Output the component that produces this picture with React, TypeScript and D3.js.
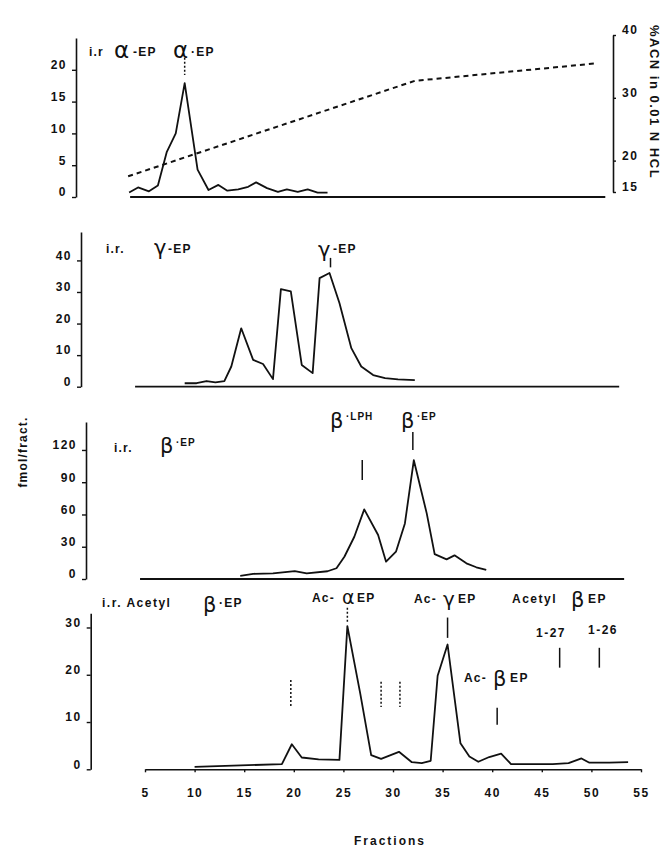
import React, { useEffect, useRef } from 'react';
import * as d3 from 'd3';

// fractions (x) and fmol/fract. (y)
const alphaFractions = [3.4, 4.3, 5.4, 6.3, 7.2, 8.1, 9.0, 10.3, 11.4, 12.4, 13.3, 14.4, 15.4, 16.2, 17.3, 18.4, 19.3, 20.4, 21.4, 22.4, 23.4];
const alphaValues = [0.7, 1.5, 0.9, 1.8, 7.1, 10.0, 17.9, 4.3, 1.1, 1.9, 1.0, 1.2, 1.6, 2.3, 1.4, 0.8, 1.2, 0.8, 1.2, 0.7, 0.7];

const gradientFractions = [3.3, 32.2, 50.6];
const gradientACN = [17.5, 32.7, 35.5];

const gammaFractions = [9.0, 10.2, 11.2, 12.1, 13.0, 13.7, 14.7, 15.9, 16.9, 17.9, 18.7, 19.7, 20.8, 21.9, 22.6, 23.6, 24.6, 25.8, 26.8, 28.0, 29.2, 30.5, 32.2];
const gammaValues = [1.1, 1.1, 1.8, 1.4, 1.8, 6.4, 18.5, 8.5, 7.2, 2.4, 30.9, 30.2, 6.9, 4.3, 34.4, 36.0, 26.5, 12.2, 6.4, 3.7, 2.7, 2.3, 2.1];

const betaFractions = [14.6, 15.9, 17.9, 20.1, 21.3, 23.4, 24.3, 25.1, 26.1, 27.1, 28.5, 29.3, 30.3, 31.2, 32.1, 33.4, 34.2, 35.4, 36.2, 37.4, 38.4, 39.4];
const betaValues = [3.0, 4.8, 5.3, 7.4, 5.3, 7.2, 10.0, 20.7, 39.3, 64.7, 40.9, 16.1, 25.4, 51.7, 110.5, 61.0, 23.2, 18.3, 22.0, 14.6, 10.9, 8.4];

const acetylFractions = [10.0, 18.8, 19.8, 20.8, 22.5, 24.6, 25.4, 26.7, 27.8, 28.8, 30.6, 31.9, 32.9, 33.8, 34.5, 35.5, 36.8, 37.7, 38.6, 39.7, 40.9, 41.9, 43.1, 44.4, 46.1, 47.7, 49.0, 49.8, 51.8, 53.7];
const acetylValues = [0.5, 1.1, 5.3, 2.5, 2.1, 2.0, 30.3, 16.0, 3.0, 2.2, 3.7, 1.5, 1.3, 1.8, 19.8, 26.4, 5.5, 2.7, 1.6, 2.6, 3.3, 1.1, 1.1, 1.1, 1.1, 1.3, 2.3, 1.4, 1.4, 1.5];

const fractionTicks = [5, 10, 15, 20, 25, 30, 35, 40, 45, 50, 55];
const alphaTicks = [0, 5, 10, 15, 20];
const gammaTicks = [0, 10, 20, 30, 40];
const betaTicks = [0, 30, 60, 90, 120];
const acetylTicks = [0, 10, 20, 30];
const acnTicks = [15, 20, 30, 40];

const FONT = "'Liberation Sans', Arial, Helvetica, sans-serif";
const GREEK = "'DejaVu Sans', 'Liberation Sans', sans-serif";

export default function App() {
    const ref = useRef<SVGSVGElement>(null);

    useEffect(() => {
        const svg = d3.select(ref.current);
        svg.selectAll('*').remove();

        const x = d3.scaleLinear().domain([5, 55]).range([145, 641]);

        const panels = [
            { fr: alphaFractions, vals: alphaValues, ticks: alphaTicks, y: d3.scaleLinear().domain([0, 25]).range([197, 38]), axisX: 76, base: [3.5, 51.4] },
            { fr: gammaFractions, vals: gammaValues, ticks: gammaTicks, y: d3.scaleLinear().domain([0, 49]).range([386.7, 232]), axisX: 81, base: [4.0, 52.8] },
            { fr: betaFractions, vals: betaValues, ticks: betaTicks, y: d3.scaleLinear().domain([0, 146]).range([579, 422]), axisX: 86, base: [4.5, 53.3] },
            { fr: acetylFractions, vals: acetylValues, ticks: acetylTicks, y: d3.scaleLinear().domain([0, 33]).range([769.3, 613.3]), axisX: 90.7, base: [5, 55] },
        ];

        const styleAxis = (g: any) => {
            g.select('.domain').attr('stroke', '#111').attr('stroke-width', 1.6);
            g.selectAll('.tick line').attr('stroke', '#111').attr('stroke-width', 1.4);
            g.selectAll('.tick text')
                .attr('fill', '#111')
                .attr('font-family', FONT)
                .attr('font-size', 12)
                .attr('font-weight', 'bold')
                .attr('letter-spacing', 1.5);
        };

        panels.forEach((p, i) => {
            const g = svg.append('g');
            const axis = d3.axisLeft(p.y).tickValues(p.ticks).tickSize(4).tickPadding(5).tickSizeOuter(0);
            g.append('g').attr('transform', `translate(${p.axisX},0)`).call(axis)
                .call(styleAxis)
                .call((a: any) => a.selectAll('.tick text').attr('dy', '-0.1em'));

            // zero line
            if (i < 3) {
                g.append('line')
                    .attr('x1', x(p.base[0])).attr('x2', x(p.base[1]))
                    .attr('y1', p.y(0)).attr('y2', p.y(0))
                    .attr('stroke', '#111').attr('stroke-width', 1.8);
            }

            const line = d3.line<number>()
                .x((d, j) => x(p.fr[j]))
                .y(d => p.y(d));
            g.append('path')
                .attr('d', line(p.vals))
                .attr('fill', 'none')
                .attr('stroke', '#111')
                .attr('stroke-width', 1.8)
                .attr('stroke-linejoin', 'round');
        });

        // fractions axis under the last panel
        const xAxis = d3.axisBottom(x).tickValues(fractionTicks).tickSize(3).tickPadding(16).tickSizeOuter(0);
        svg.append('g').attr('transform', `translate(0,${panels[3].y(0)})`).call(xAxis).call(styleAxis);

        // %ACN gradient
        const acn = d3.scaleLinear().domain([15, 40]).range([192, 35]);
        svg.append('g').attr('transform', 'translate(613,0)')
            .call(d3.axisRight(acn).tickValues(acnTicks).tickSize(3).tickPadding(6).tickSizeOuter(0))
            .call(styleAxis)
            .call((a: any) => a.selectAll('.tick text').attr('dy', '-0.1em'));
        const gradLine = d3.line<number>()
            .x((d, j) => x(gradientFractions[j]))
            .y(d => acn(d));
        svg.append('path')
            .attr('d', gradLine(gradientACN))
            .attr('fill', 'none')
            .attr('stroke', '#111')
            .attr('stroke-width', 2)
            .attr('stroke-dasharray', '5,4');

        const label = (tx: number, ty: number, text: string, size = 12, spacing = 1.2) =>
            svg.append('text')
                .attr('x', tx).attr('y', ty)
                .attr('font-family', FONT)
                .attr('font-size', size)
                .attr('font-weight', 'bold')
                .attr('letter-spacing', spacing)
                .attr('fill', '#111')
                .text(text);

        const greek = (tx: number, ty: number, text: string, size = 20) =>
            svg.append('text')
                .attr('x', tx).attr('y', ty)
                .attr('font-family', GREEK)
                .attr('font-size', size)
                .attr('font-weight', 'normal')
                .attr('fill', '#111')
                .text(text);

        const marker = (p: any, f: number, v0: number, v1: number, dashed = false) =>
            svg.append('line')
                .attr('x1', x(f)).attr('x2', x(f))
                .attr('y1', p.y(v0)).attr('y2', p.y(v1))
                .attr('stroke', '#111')
                .attr('stroke-width', 1.5)
                .attr('stroke-dasharray', dashed ? '2,2' : null);

        // panel 1
        label(89, 56, 'i.r', 12);
        greek(114, 58, 'α', 23);
        label(133, 56, '-EP', 12);
        greek(173, 58, 'α', 23);
        label(191, 56, '·EP', 12);
        marker(panels[0], 9.0, 21.9, 19.2, true);

        // panel 2
        label(106, 253, 'i.r.', 12);
        greek(154, 255, 'γ', 21);
        label(168, 253, '-EP', 12);
        greek(318, 257, 'γ', 21);
        label(333, 253, '-EP', 12);
        marker(panels[1], 23.7, 40.8, 37.8);

        // panel 3
        label(114, 452, 'i.r.', 12);
        greek(160, 453, 'β', 21);
        label(176, 446, '·EP', 10, 1);
        greek(330, 428, 'β', 21);
        label(346, 420, '·LPH', 10, 1);
        greek(401, 428, 'β', 21);
        label(417, 420, '·EP', 10, 1);
        marker(panels[2], 26.9, 110.7, 92.1);
        marker(panels[2], 32.0, 136.7, 120);

        // panel 4
        label(102, 607, 'i.r. Acetyl', 12, 1.5);
        greek(203, 612, 'β', 21);
        label(219, 607, '·EP', 12);
        label(312, 602, 'Ac-', 12);
        greek(342, 604, 'α', 19);
        label(357, 602, 'EP', 12);
        label(414, 603, 'Ac-', 12);
        greek(443, 606, 'γ', 20);
        label(458, 603, 'EP', 12);
        label(512, 603, 'Acetyl', 12, 1.5);
        greek(571, 607, 'β', 21);
        label(588, 603, 'EP', 12, 1.5);
        label(536, 637, '1-27', 12, 1.5);
        label(588, 634, '1-26', 12, 1.5);
        label(464, 682, 'Ac-', 12);
        greek(493, 686, 'β', 21);
        label(510, 682, 'EP', 12, 1.5);
        marker(panels[3], 25.4, 34.2, 31.2, true);
        marker(panels[3], 35.5, 32.1, 27.8);
        marker(panels[3], 19.7, 18.9, 13.2, true);
        marker(panels[3], 28.8, 18.5, 13.2, true);
        marker(panels[3], 30.7, 18.5, 13.2, true);
        marker(panels[3], 40.5, 13.0, 9.4);
        marker(panels[3], 46.8, 25.7, 21.5);
        marker(panels[3], 50.8, 25.7, 21.5);

        // axis titles
        label(390, 845, 'Fractions', 12, 2).attr('text-anchor', 'middle');
        label(0, 0, 'fmol/fract.', 12, 1.2)
            .attr('text-anchor', 'middle')
            .attr('transform', 'translate(27,452) rotate(-90)');
        label(0, 0, '%ACN in 0.01 N HCL', 13, 1.5)
            .attr('text-anchor', 'middle')
            .attr('transform', 'translate(650,102) rotate(90)');
    }, []);

    return (
        <svg ref={ref} width={668} height={847}
            style={{ position: 'absolute', left: 0, top: 0, background: '#fff' }} />
    );
}
